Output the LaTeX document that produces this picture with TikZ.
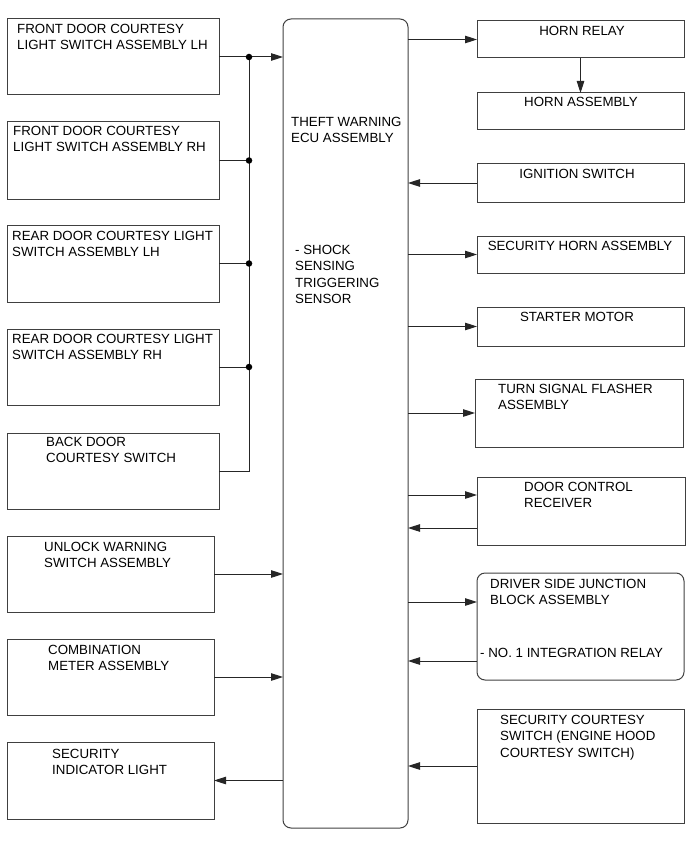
\documentclass[tikz,border=0pt]{standalone}
\usepackage{fontspec}
\setmainfont{Liberation Sans}
\usetikzlibrary{arrows.meta,calc}
\begin{document}
\begin{tikzpicture}[x=1pt,y=-1pt,
  box/.style={draw=black!75,line width=1pt,rectangle,inner sep=0pt,outer sep=0pt},
  rbox/.style={box,rounded corners=8pt},
  lbl/.style={anchor=north west,inner sep=0pt,align=left,font=\fontsize{13.3}{16.5}\selectfont},
  clbl/.style={anchor=north,inner sep=0pt,align=center,font=\fontsize{13.3}{16.5}\selectfont},
  wire/.style={draw=black!85,line width=1pt},
  arr/.style={wire,-{Triangle[length=12pt,width=7.5pt]}},
  dot/.style={circle,fill=black,inner sep=0pt,minimum size=6.5pt}]
\useasboundingbox (0,0) rectangle (690,853);
% ECU
\node[rbox,minimum width=125pt,minimum height=809pt] (ecu) at (345.5,423.5) {};
\node[lbl] (ecut) at (291,117) {THEFT WARNING\\ECU ASSEMBLY};
\node[lbl] (ecus) at (295,245) {- SHOCK\\SENSING\\TRIGGERING\\SENSOR};
% left boxes
\node[box,minimum width=212pt,minimum height=76pt] (flh) at (113,57) {};
\node[box,minimum width=212pt,minimum height=77pt] (frh) at (113,160.5) {};
\node[box,minimum width=212pt,minimum height=77pt] (rlh) at (113,263.5) {};
\node[box,minimum width=212pt,minimum height=76pt] (rrh) at (113,367) {};
\node[box,minimum width=212pt,minimum height=76pt] (bd) at (113,471) {};
\node[box,minimum width=207pt,minimum height=76pt] (uw) at (110.5,574) {};
\node[box,minimum width=207pt,minimum height=76pt] (cm) at (110.5,677) {};
\node[box,minimum width=207pt,minimum height=77pt] (si) at (110.5,780.5) {};
\node[lbl] (flht) at (17,24) {FRONT DOOR COURTESY\\LIGHT SWITCH ASSEMBLY LH};
\node[lbl] (frht) at (13,126) {FRONT DOOR COURTESY\\LIGHT SWITCH ASSEMBLY RH};
\node[lbl] (rlht) at (12,231) {REAR DOOR COURTESY LIGHT\\SWITCH ASSEMBLY LH};
\node[lbl] (rrht) at (12,334) {REAR DOOR COURTESY LIGHT\\SWITCH ASSEMBLY RH};
\node[lbl] (bdt) at (46,437) {BACK DOOR\\COURTESY SWITCH};
\node[lbl] (uwt) at (44,542) {UNLOCK WARNING\\SWITCH ASSEMBLY};
\node[lbl] (cmt) at (48,645) {COMBINATION\\METER ASSEMBLY};
\node[lbl] (sit) at (52,749) {SECURITY\\INDICATOR LIGHT};
% right boxes
\node[box,minimum width=207pt,minimum height=37pt] (hr) at (580.5,39.5) {};
\node[box,minimum width=207pt,minimum height=37pt] (ha) at (580.5,111.5) {};
\node[box,minimum width=207pt,minimum height=38pt] (ig) at (580.5,183) {};
\node[box,minimum width=207pt,minimum height=37pt] (sh) at (580.5,254.5) {};
\node[box,minimum width=207pt,minimum height=39pt] (sm) at (580.5,326.5) {};
\node[box,minimum width=208pt,minimum height=68pt] (ts) at (579,413) {};
\node[box,minimum width=208pt,minimum height=68pt] (dc) at (581,511) {};
\node[rbox,minimum width=207pt,minimum height=107pt] (dj) at (580.5,626.5) {};
\node[box,minimum width=207pt,minimum height=114pt] (sc) at (580.5,766) {};
\node[clbl] (hrt) at (582,26) {HORN RELAY};
\node[clbl] (hat) at (581,97) {HORN ASSEMBLY};
\node[clbl] (igt) at (577,169) {IGNITION SWITCH};
\node[clbl] (sht) at (580,241) {SECURITY HORN ASSEMBLY};
\node[clbl] (smt) at (577,312) {STARTER MOTOR};
\node[lbl] (tst) at (498,384) {TURN SIGNAL FLASHER\\ASSEMBLY};
\node[lbl] (dct) at (524,482) {DOOR CONTROL\\RECEIVER};
\node[lbl] (djt) at (490,579) {DRIVER SIDE JUNCTION\\BLOCK ASSEMBLY};
\node[lbl] (djr) at (480,648) {- NO. 1 INTEGRATION RELAY};
\node[lbl] (sct) at (500,715) {SECURITY COURTESY\\SWITCH (ENGINE HOOD\\COURTESY SWITCH)};
% bus
\coordinate (bus) at (249,0);
\draw[arr] (flh.east) -- (flh.east -| ecu.west);
\draw[wire] (frh.east) -- (frh.east -| bus);
\draw[wire] (rlh.east) -- (rlh.east -| bus);
\draw[wire] (rrh.east) -- (rrh.east -| bus);
\draw[wire] (bd.east) -| (flh.east -| bus);
\node[dot] (d1) at (flh.east -| bus) {};
\node[dot] (d2) at (frh.east -| bus) {};
\node[dot] (d3) at (rlh.east -| bus) {};
\node[dot] (d4) at (rrh.east -| bus) {};
% left connectors
\draw[arr] (uw.east) -- (uw.east -| ecu.west);
\draw[arr] (cm.east) -- (cm.east -| ecu.west);
\draw[arr] (si.east -| ecu.west) -- (si.east);
% right connectors
\draw[arr] (hr.west -| ecu.east) -- (hr.west);
\draw[arr] (hr.south -| ha.north) -- (ha.north);
\draw[arr] (ig.west) -- (ig.west -| ecu.east);
\draw[arr] (sh.west -| ecu.east) -- (sh.west);
\draw[arr] (sm.west -| ecu.east) -- (sm.west);
\draw[arr] (ts.west -| ecu.east) -- (ts.west);
\draw[arr] ([yshift=16pt]dc.west -| ecu.east) -- ([yshift=16pt]dc.west);
\draw[arr] ([yshift=-17pt]dc.west) -- ([yshift=-17pt]dc.west -| ecu.east);
\draw[arr] ([yshift=24.5pt]dj.west -| ecu.east) -- ([yshift=24.5pt]dj.west);
\draw[arr] ([yshift=-34.5pt]dj.west) -- ([yshift=-34.5pt]dj.west -| ecu.east);
\draw[arr] (sc.west) -- (sc.west -| ecu.east);
\end{tikzpicture}
\end{document}
